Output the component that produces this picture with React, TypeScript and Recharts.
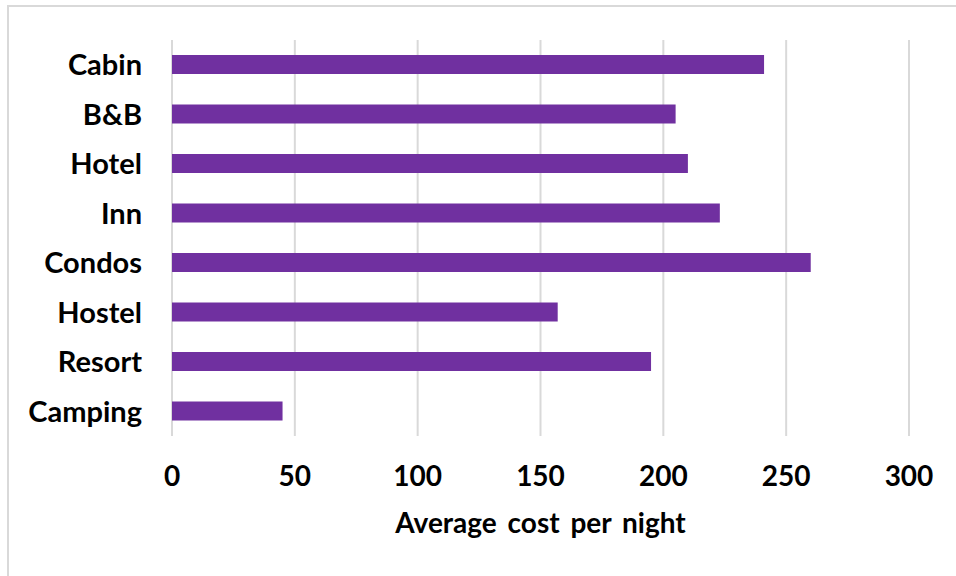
import React from 'react';
import { BarChart, Bar, XAxis, YAxis, CartesianGrid } from 'recharts';

// Lodging types, top to bottom as shown
const categories = ['Cabin', 'B&B', 'Hotel', 'Inn', 'Condos', 'Hostel', 'Resort', 'Camping'];
const avgCost = [241, 205, 210, 223, 260, 157, 195, 45];
const xTicks = [0, 50, 100, 150, 200, 250, 300];

const FONT = 'Lato, "Open Sans", sans-serif';

export default function App() {
  const chartData = categories.map((name, i) => ({ name, value: avgCost[i] }));

  return (
    <div
      style={{
        position: 'absolute',
        left: 0,
        top: 0,
        width: 956,
        height: 576,
        overflow: 'hidden',
        background: '#fff',
      }}
    >
      {/* chart frame, only top and left edges fall inside the picture */}
      <div
        style={{
          position: 'absolute',
          left: 7,
          top: 5,
          width: 1000,
          height: 1000,
          border: '2px solid #d9d9d9',
        }}
      />
      <BarChart
        width={956}
        height={576}
        data={chartData}
        layout="vertical"
        margin={{ top: 40, right: 47, bottom: 30, left: 0 }}
        barSize={19}
        style={{ position: 'absolute', left: 0, top: 0, fontFamily: FONT }}
      >
        <CartesianGrid vertical horizontal={false} stroke="#d9d9d9" strokeWidth={2} />
        <XAxis
          type="number"
          domain={[0, 300]}
          ticks={xTicks}
          axisLine={false}
          tickLine={false}
          tickSize={0}
          tickMargin={30}
          height={110}
          tick={{ fill: '#000', fontSize: 28, fontWeight: 700, fontFamily: FONT }}
          label={{
            value: 'Average cost per night',
            position: 'insideBottom',
            offset: 13,
            fill: '#000',
            fontSize: 28,
            fontWeight: 700,
            fontFamily: FONT,
            wordSpacing: 4,
          }}
        />
        <YAxis
          type="category"
          dataKey="name"
          width={172}
          axisLine={false}
          tickLine={false}
          tickSize={0}
          tickMargin={30}
          interval={0}
          tick={{ fill: '#000', fontSize: 29, fontWeight: 700, fontFamily: FONT }}
        />
        <Bar dataKey="value" fill="#7030a0" isAnimationActive={false} />
      </BarChart>
    </div>
  );
}
